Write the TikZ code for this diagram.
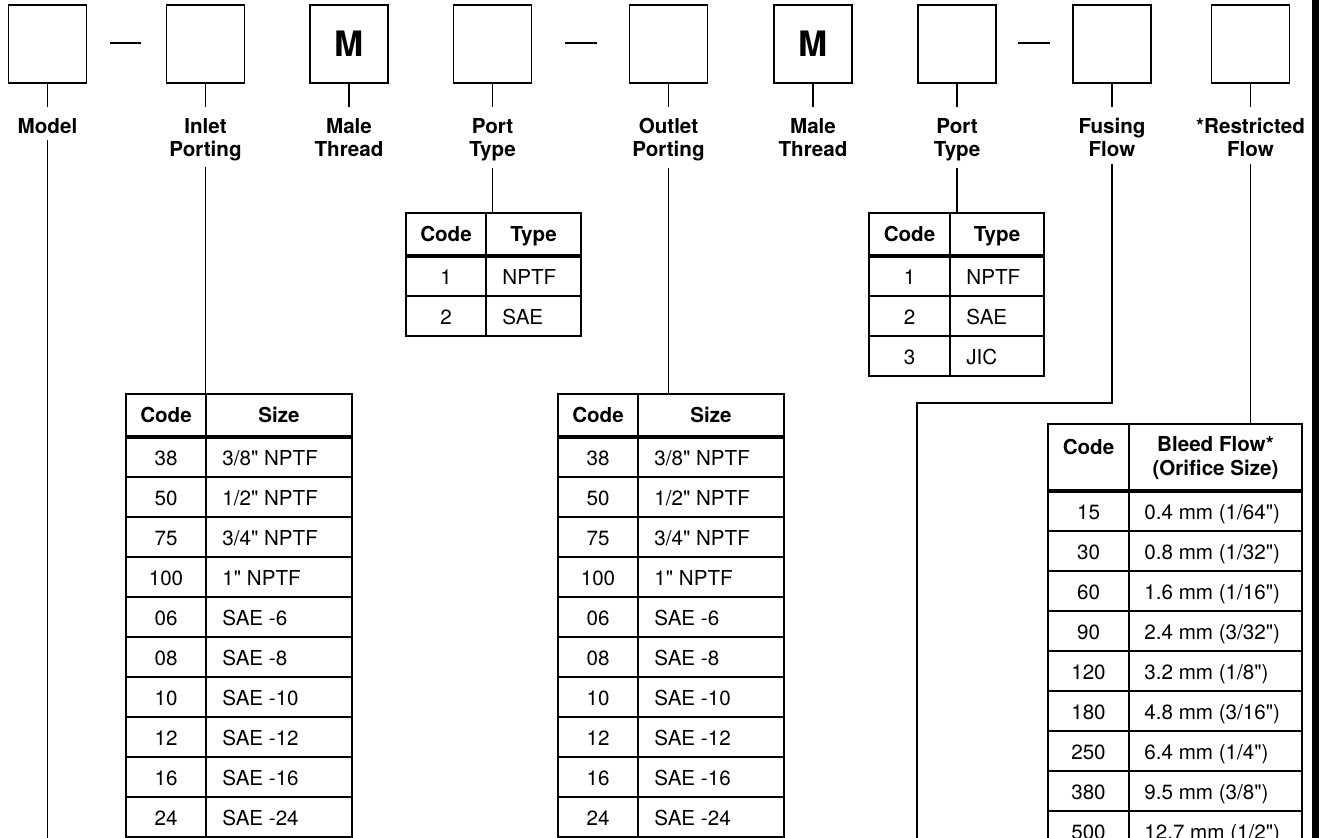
\documentclass[tikz,border=0pt]{standalone}
\usepackage{fontspec}
\setmainfont{TeX Gyre Heros}[Ligatures=TeXOff]
\usetikzlibrary{calc}

\newcommand\tabfont{\fontsize{10.3}{11.6}\selectfont}

\tikzset{
	code box/.style={draw, line width=0.65pt, minimum size=39pt, inner sep=0pt},
	field/.style={anchor=north, inner sep=0pt, align=center, font=\tabfont\bfseries},
	link/.style={line width=0.65pt},
	tab/.style={draw, line width=0.65pt, inner sep=0pt},
	cell/.style={inner sep=0pt, text height=7.4pt, text depth=0pt, font=\tabfont},
	hcell/.style={cell, font=\tabfont\bfseries},
	rule/.style={line width=1.6pt}
}

\begin{document}
\begin{tikzpicture}[x=0.5pt, y=-0.5pt]
		\clip (0,0) rectangle (1319,838);
		%
		% code boxes
		\node[code box] (bmodel) at (47.5,44) {};
		\node[code box] (binlet) at (205.5,44) {};
		\node[code box, font=\fontsize{17.5}{18}\selectfont\bfseries] (bmale1) at (349,44) {M};
		\node[code box] (bport1) at (492.5,44) {};
		\node[code box] (boutlet) at (668.5,44) {};
		\node[code box, font=\fontsize{17.5}{18}\selectfont\bfseries] (bmale2) at (813,44) {M};
		\node[code box] (bport2) at (957,44) {};
		\node[code box] (bfusing) at (1112,44) {};
		\node[code box] (brestr) at (1250.5,44) {};
		\draw[link] (110,43) -- (141,43);
		\draw[link] (565,43) -- (597,43);
		\draw[link] (1018,43) -- (1050,43);
		%
		% field names
		\node[field] (lmodel) at (47.5,118) {Model};
		\node[field] (linlet) at (205.5,118) {Inlet\\Porting};
		\node[field] (lmale1) at (349,118) {Male\\Thread};
		\node[field] (lport1) at (492.5,118) {Port\\Type};
		\node[field] (loutlet) at (668.5,118) {Outlet\\Porting};
		\node[field] (lmale2) at (813,118) {Male\\Thread};
		\node[field] (lport2) at (957,118) {Port\\Type};
		\node[field] (lfusing) at (1112,118) {Fusing\\Flow};
		\node[field] (lrestr) at (1250.5,118) {*Restricted\\Flow};
		\foreach \f in {model,inlet,male1,port1,outlet,male2,port2,fusing,restr}{
			\draw[link, shorten >=5.5pt] (b\f) -- (l\f);
		}
		%
		% porting tables
		\node[tab, minimum width=113pt, minimum height=221.5pt] (tinlet) at (239,615.5) {};
		\node[tab, minimum width=113pt, minimum height=221.5pt] (toutlet) at (671,615.5) {};
		\foreach \dx/\t in {0/i,432/o}{
			\draw[link] (206+\dx,394) -- (206+\dx,837);
			\draw[rule] (126+\dx,437) -- (352+\dx,437);
			\foreach \r in {1,...,9}
				\draw[link] (126+\dx,{437+40*\r}) -- (352+\dx,{437+40*\r});
			\node[hcell] (\t hc) at (166+\dx,415.5) {Code};
			\node[hcell] (\t hs) at (279+\dx,415.5) {Size};
			\foreach \c/\s [count=\i from 0] in {38/{3/8" NPTF},50/{1/2" NPTF},75/{3/4" NPTF},100/{1" NPTF},06/SAE -6,08/SAE -8,10/SAE -10,12/SAE -12,16/SAE -16,24/SAE -24}{
				\node[cell] (\t c\i) at (166+\dx,{458+40*\i}) {\c};
				\node[cell, anchor=west] (\t s\i) at (222+\dx,{458+40*\i}) {\s};
			}
		}
		%
		% port type tables
		\node[tab, minimum width=87.5pt, minimum height=61.5pt] (tport1) at (493.5,274.5) {};
		\draw[link] (486,213) -- (486,336);
		\draw[rule] (406,256) -- (581,256);
		\draw[link] (406,296) -- (581,296);
		\node[hcell] (p1hc) at (446,234.5) {Code};
		\node[hcell] (p1ht) at (533.5,234.5) {Type};
		\foreach \c/\s [count=\i from 0] in {1/NPTF,2/SAE}{
			\node[cell] (p1c\i) at (446,{277+40*\i}) {\c};
			\node[cell, anchor=west] (p1s\i) at (502,{277+40*\i}) {\s};
		}
		%
		\node[tab, minimum width=87.5pt, minimum height=81.5pt] (tport2) at (956.5,294.5) {};
		\draw[link] (950,213) -- (950,376);
		\draw[rule] (869,256) -- (1044,256);
		\draw[link] (869,296) -- (1044,296);
		\draw[link] (869,336) -- (1044,336);
		\node[hcell] (p2hc) at (909.5,234.5) {Code};
		\node[hcell] (p2ht) at (997,234.5) {Type};
		\foreach \c/\s [count=\i from 0] in {1/NPTF,2/SAE,3/JIC}{
			\node[cell] (p2c\i) at (909.5,{277+40*\i}) {\c};
			\node[cell, anchor=west] (p2s\i) at (966,{277+40*\i}) {\s};
		}
		%
		% bleed flow table
		\node[tab, minimum width=127pt, minimum height=213.5pt] (tbleed) at (1175,637.5) {};
		\draw[link] (1129,424) -- (1129,851);
		\draw[rule] (1048,491) -- (1302,491);
		\foreach \r in {0,...,7}
			\draw[link] (1048,{531+40*\r}) -- (1302,{531+40*\r});
		\node[hcell] (bhc) at (1088.5,447) {Code};
		\node[align=center, inner sep=0pt, font=\tabfont\bfseries] (bhf) at (1215.5,458) {Bleed Flow*\\(Orifice Size)};
		\foreach \c/\s [count=\i from 0] in {15/{0.4 mm (1/64")},30/{0.8 mm (1/32")},60/{1.6 mm (1/16")},90/{2.4 mm (3/32")},120/{3.2 mm (1/8")},180/{4.8 mm (3/16")},250/{6.4 mm (1/4")},380/{9.5 mm (3/8")},500/{12.7 mm (1/2")}}{
			\node[cell] (bc\i) at (1088.5,{512+40*\i}) {\c};
			\node[cell, anchor=west] (bs\i) at (1144,{512+40*\i}) {\s};
		}
		%
		% leader lines
		\coordinate (mend) at (47.5,845);
		\coordinate (fbend) at (917,403);
		\coordinate (fend) at (917,845);
		\draw[link, shorten <=3pt] (lmodel.south) -- (mend);
		\draw[link, shorten <=3pt] (linlet.south) -- (linlet.south |- tinlet.north);
		\draw[link, shorten <=3pt] (lport1.south) -- (lport1.south |- tport1.north);
		\draw[link, shorten <=3pt] (loutlet.south) -- (loutlet.south |- toutlet.north);
		\draw[link, shorten <=3pt] (lport2.south) -- (lport2.south |- tport2.north);
		\draw[link, shorten <=3pt] (lfusing.south) |- (fbend) -- (fend);
		\draw[link, shorten <=3pt] (lrestr.south) -- (lrestr.south |- tbleed.north);
		%
		\fill (1312,0) rectangle (1319,838);
	\end{tikzpicture}
\end{document}
